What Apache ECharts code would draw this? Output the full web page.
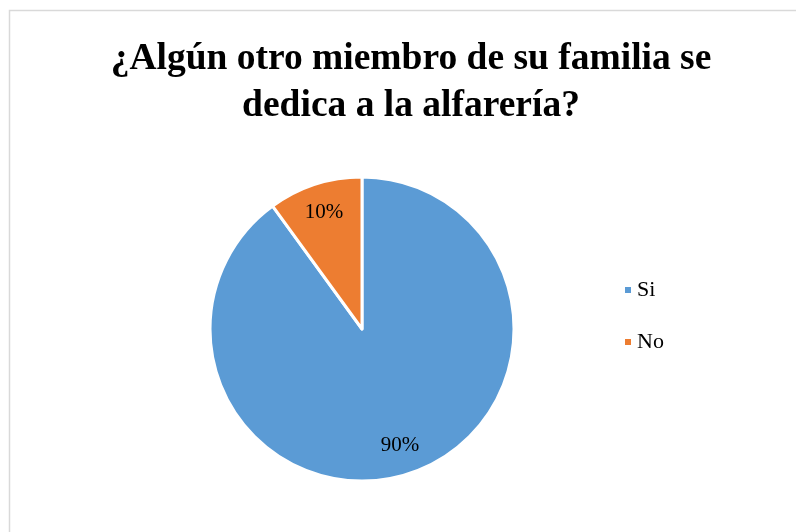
<!DOCTYPE html>
<html>
<head>
<meta charset="utf-8">
<script src="https://cdn.jsdelivr.net/npm/echarts@6/dist/echarts.min.js"></script>
<style>html,body{margin:0;padding:0;background:#fff}#c{width:796px;height:532px}</style>
</head>
<body>
<div id="c"></div>
<script>
var titleText = '¿Algún otro miembro de su familia se\ndedica a la alfarería?';
var categories = ['Si', 'No'];
var values = [90, 10];
var colors = ['#5B9BD5', '#ED7D31'];

var pieData = categories.map(function (c, i) {
  return { name: c, value: values[i], itemStyle: { color: colors[i] } };
});
var labelData = categories.map(function (c, i) {
  return { name: c, value: values[i] };
});

var chart = echarts.init(document.getElementById('c'));
chart.setOption({
  backgroundColor: '#fff',
  animation: false,
  graphic: [{
    type: 'rect',
    shape: { x: 9.5, y: 10.5, width: 900, height: 900 },
    style: { fill: 'none', stroke: '#d9d9d9', lineWidth: 1.5 },
    silent: true
  }],
  title: {
    text: titleText,
    left: 406,
    top: 31,
    textAlign: 'center',
    textStyle: {
      fontFamily: 'Liberation Serif',
      fontWeight: 'bold',
      fontSize: 37.5,
      lineHeight: 47,
      color: '#000'
    }
  },
  legend: {
    data: categories,
    orient: 'vertical',
    left: 618,
    top: 274,
    icon: 'rect',
    itemWidth: 8,
    itemHeight: 8,
    itemGap: 30,
    textStyle: { fontFamily: 'Liberation Serif', fontSize: 22, color: '#000', lineHeight: 22 }
  },
  series: [{
    type: 'pie',
    center: [362, 329],
    radius: [0, 152],
    startAngle: 90,
    clockwise: true,
    label: { show: false },
    labelLine: { show: false },
    itemStyle: { borderColor: '#fff', borderWidth: 3 },
    emphasis: { disabled: true },
    data: pieData
  }, {
    type: 'pie',
    center: [362, 329],
    radius: [88, 152],
    startAngle: 90,
    clockwise: true,
    silent: true,
    itemStyle: { color: 'rgba(0,0,0,0)', borderWidth: 0 },
    label: {
      show: true,
      position: 'inside',
      formatter: '{c}%',
      fontFamily: 'Liberation Serif',
      fontSize: 21,
      color: '#000'
    },
    labelLine: { show: false },
    emphasis: { disabled: true },
    data: labelData
  }]
});
</script>
</body>
</html>
